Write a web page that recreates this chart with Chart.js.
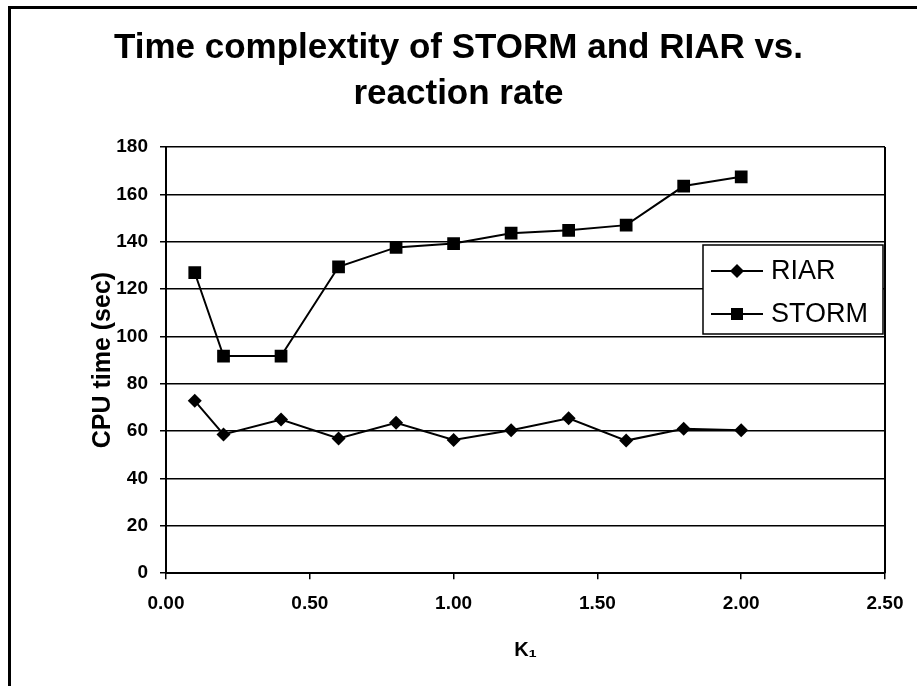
<!DOCTYPE html>
<html>
<head>
<meta charset="utf-8">
<title>Time complextity of STORM and RIAR vs. reaction rate</title>
<script src="https://cdn.jsdelivr.net/npm/chart.js@4/dist/chart.umd.min.js"></script>
<style>
	html,body{margin:0;padding:0;background:#fff;}
	#frame{position:absolute;left:8px;top:6px;width:909px;height:680px;border-left:3px solid #000;border-top:3px solid #000;box-sizing:border-box;}
	#timeChart{position:absolute;left:0;top:0;}
</style>
</head>
<body>
<div id="frame"></div>
<canvas id="timeChart" width="917" height="686"></canvas>
<script>
// values
var kValues = [0.1, 0.2, 0.4, 0.6, 0.8, 1.0, 1.2, 1.4, 1.6, 1.8, 2.0];
var riarTimes = [72.8, 58.6, 64.9, 56.9, 63.5, 56.3, 60.4, 65.4, 56.0, 61.0, 60.4];
var stormTimes = [126.9, 91.7, 91.7, 129.4, 137.6, 139.2, 143.6, 144.8, 147.0, 163.5, 167.4];
var seriesNames = ['RIAR', 'STORM'];
var titleLines = ['Time complextity of STORM and RIAR vs.', 'reaction rate'];

var FONT = '"Liberation Sans", Arial, Helvetica, sans-serif';

function toPoints(xs, ys){
	var pts = [];
	for(var i=0;i<xs.length;i++)
	{
		pts.push({x: xs[i], y: ys[i]});
	}
	return pts;
}

//--------------------PLOT FRAME + LEGEND------------------------//
function drawMarker(ctx, style, x, y){
	ctx.beginPath();
	if(style === 'rectRot')
	{
		ctx.moveTo(x - 7, y);
		ctx.lineTo(x, y - 7);
		ctx.lineTo(x + 7, y);
		ctx.lineTo(x, y + 7);
		ctx.closePath();
	}else
	{
		ctx.rect(x - 6, y - 6, 12, 12);
	}
	ctx.fill();
}

var framePlugin = {
	id: 'framePlugin',
	afterDraw: function(chart){
		var ctx = chart.ctx;
		var area = chart.chartArea;
		ctx.save();
		ctx.strokeStyle = '#000';
		ctx.lineWidth = 2;
		ctx.beginPath();
		ctx.moveTo(area.right, area.top);
		ctx.lineTo(area.right, area.bottom);
		ctx.stroke();

		// legend box inside the plot, right side
		var bx = area.right - 182, by = area.top + 98, bw = 180, bh = 89;
		ctx.fillStyle = '#fff';
		ctx.fillRect(bx, by, bw, bh);
		ctx.lineWidth = 1.5;
		ctx.strokeRect(bx, by, bw, bh);

		var rows = [by + 26, by + 69];
		chart.data.datasets.forEach(function(ds, i){
			ctx.strokeStyle = '#000';
			ctx.lineWidth = 2;
			ctx.beginPath();
			ctx.moveTo(bx + 8, rows[i]);
			ctx.lineTo(bx + 60, rows[i]);
			ctx.stroke();
			ctx.fillStyle = '#000';
			drawMarker(ctx, ds.pointStyle, bx + 34, rows[i]);
			ctx.font = '27px ' + FONT;
			ctx.textBaseline = 'middle';
			ctx.textAlign = 'left';
			ctx.fillText(ds.label, bx + 68, rows[i] + 1);
		});
		ctx.restore();
	}
};

var ctx1 = document.getElementById('timeChart').getContext('2d');
var timeChart = new Chart(ctx1, {
	type: 'line',
	data: {
		datasets: [{
			label: seriesNames[0],
			data: toPoints(kValues, riarTimes),
			borderColor: '#000',
			backgroundColor: '#000',
			borderWidth: 2,
			pointStyle: 'rectRot',
			pointRadius: 7,
			pointBorderWidth: 0
		},{
			label: seriesNames[1],
			data: toPoints(kValues, stormTimes),
			borderColor: '#000',
			backgroundColor: '#000',
			borderWidth: 2,
			pointStyle: 'rect',
			pointRadius: 9,
			pointBorderWidth: 0
		}]
	},
	options: {
		responsive: false,
		animation: false,
		layout: {
			// symmetric left/right so the title sits in the middle of the page
			padding: {top: 10, left: 32, right: 32, bottom: 24}
		},
		plugins: {
			legend: {display: false},
			tooltip: {enabled: false},
			title: {
				display: true,
				text: titleLines,
				color: '#000',
				font: {family: FONT, size: 35, weight: 'bold', lineHeight: 1.3},
				padding: {top: 16, bottom: 30}
			}
		},
		scales: {
			x: {
				type: 'linear',
				min: 0,
				max: 2.5,
				ticks: {
					stepSize: 0.5,
					padding: 13,
					color: '#000',
					font: {family: FONT, size: 19, weight: 'bold'},
					callback: function(v){ return v.toFixed(2); }
				},
				grid: {drawOnChartArea: false, tickLength: 6, color: '#000', lineWidth: 1.5},
				border: {color: '#000', width: 2},
				title: {
					display: true,
					text: 'K\u2081',
					color: '#000',
					font: {family: FONT, size: 20, weight: 'bold'},
					padding: {top: 10, bottom: 0}
				}
			},
			y: {
				min: 0,
				max: 180,
				afterFit: function(scale){ scale.width = 134; },
				ticks: {
					stepSize: 20,
					padding: 12,
					color: '#000',
					font: {family: FONT, size: 19, weight: 'bold'}
				},
				grid: {color: '#000', lineWidth: 1.5, tickLength: 6},
				border: {color: '#000', width: 2},
				title: {
					display: true,
					text: 'CPU time (sec)',
					color: '#000',
					font: {family: FONT, size: 25, weight: 'bold'},
					padding: {top: 56, bottom: 0}
				}
			}
		}
	},
	plugins: [framePlugin]
});
</script>
</body>
</html>
